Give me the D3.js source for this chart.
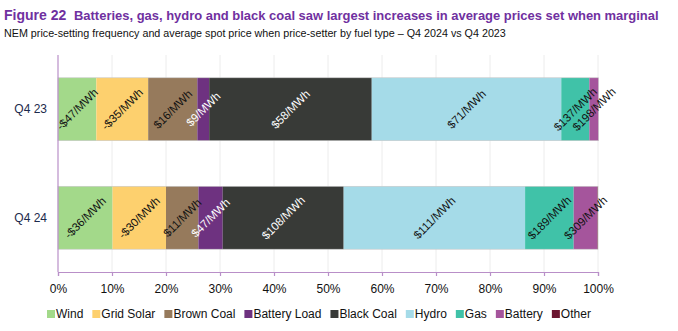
<!DOCTYPE html>
<html>
<head>
<meta charset="utf-8">
<script src="https://cdn.jsdelivr.net/npm/d3@7"></script>
<style>
  body { margin: 0; background: #fff; }
  svg { font-family: "Liberation Sans", Arial, sans-serif; }
</style>
</head>
<body>
<div id="chart"></div>
<script>
// quarters and fuel types
var quarters = ["Q4 23", "Q4 24"];
var fuels = ["Wind", "Grid Solar", "Brown Coal", "Battery Load", "Black Coal", "Hydro", "Gas", "Battery", "Other"];
var fuelColors = ["#a3d98a", "#fdd06e", "#967a5c", "#6e3280", "#383a37", "#a5dbe8", "#40c2a8", "#a5559c", "#6b1530"];

// price-setting share (%) per fuel, same order as fuels
var share23 = [7.1, 9.6, 9.1, 2.2, 30.1, 35.1, 5.2, 1.7, 0];
var share24 = [10.1, 9.9, 6.0, 4.5, 22.4, 33.6, 9.0, 4.4, 0.1];

// average price when price-setter
var price23 = ["-$47/MWh", "-$35/MWh", "$16/MWh", "$9/MWh", "$58/MWh", "$71/MWh", "$137/MWh", "$198/MWh", ""];
var price24 = ["-$36/MWh", "-$30/MWh", "$11/MWh", "$47/MWh", "$108/MWh", "$111/MWh", "$189/MWh", "$309/MWh", ""];

var xTicks = [0, 10, 20, 30, 40, 50, 60, 70, 80, 90, 100];

var width = 678, height = 331;
var margin = {top: 55, left: 58, right: 80, bottom: 59};

var svg = d3.select("#chart").append("svg")
    .attr("width", width)
    .attr("height", height);

// scale a text's font size so its natural width matches the target
function fitText(sel, target) {
  var fs = +sel.attr("font-size");
  var w = sel.node().getComputedTextLength();
  if (w > 0) sel.attr("font-size", (fs * target / w).toFixed(2));
}

// title + subtitle
svg.append("text")
    .attr("x", 4).attr("y", 20)
    .attr("fill", "#7030a0")
    .attr("font-size", 14)
    .attr("font-weight", "bold")
    .text("Figure 22");

var title = svg.append("text")
    .attr("x", 74).attr("y", 20)
    .attr("fill", "#7030a0")
    .attr("font-family", "'Liberation Sans Narrow', 'Liberation Sans', Arial, sans-serif")
    .attr("font-size", 14)
    .attr("font-weight", "bold")
    .text("Batteries, gas, hydro and black coal saw largest increases in average prices set when marginal");
fitText(title, 585);

var subtitle = svg.append("text")
    .attr("x", 4).attr("y", 37)
    .attr("fill", "#111")
    .attr("font-size", 11)
    .text("NEM price-setting frequency and average spot price when price-setter by fuel type \u2013 Q4 2024 vs Q4 2023");
fitText(subtitle, 502);

var x = d3.scaleLinear().domain([0, 100]).range([margin.left, 598]);
var y = d3.scaleBand().domain(quarters).range([margin.top, 272]).paddingInner(0.42).paddingOuter(0.21);

// gridlines
svg.append("g").selectAll("line")
    .data(xTicks.slice(1))
    .enter().append("line")
    .attr("x1", d => x(d)).attr("x2", d => x(d))
    .attr("y1", margin.top).attr("y2", 272)
    .attr("stroke", "#ececec")
    .attr("stroke-width", 1);

// stack the data
var rows = [
  {q: "Q4 23", shares: share23, prices: price23},
  {q: "Q4 24", shares: share24, prices: price24}
];

rows.forEach(function(row) {
  var acc = 0;
  var segs = row.shares.map(function(s, i) {
    var seg = {fuel: fuels[i], x0: acc, x1: acc + s, color: fuelColors[i], label: row.prices[i]};
    acc += s;
    return seg;
  });

  var g = svg.append("g");
  g.selectAll("rect")
      .data(segs.filter(d => d.x1 > d.x0))
    .enter().append("rect")
      .attr("x", d => x(d.x0))
      .attr("y", y(row.q))
      .attr("width", d => x(d.x1) - x(d.x0))
      .attr("height", y.bandwidth())
      .attr("fill", d => d.color);

  // outline of the whole bar
  g.append("rect")
      .attr("x", x(0)).attr("y", y(row.q))
      .attr("width", x(acc) - x(0)).attr("height", y.bandwidth())
      .attr("fill", "none")
      .attr("stroke", "#c8c8c8")
      .attr("stroke-width", 0.6);

  var cy = y(row.q) + y.bandwidth() / 2;
  g.selectAll("text")
      .data(segs.filter(d => d.label !== ""))
    .enter().append("text")
      .attr("transform", d => "translate(" + x((d.x0 + d.x1) / 2) + "," + cy + ") rotate(-45)")
      .attr("text-anchor", "middle")
      .attr("dy", "0.35em")
      .attr("font-size", 11.5)
      .attr("fill", d => (d.fuel == "Battery Load" || d.fuel == "Black Coal") ? "#fff" : "#111")
      .text(d => d.label);
});

// y labels
svg.append("g").selectAll("text")
    .data(quarters)
    .enter().append("text")
    .attr("x", 47)
    .attr("y", d => y(d) + y.bandwidth() / 2)
    .attr("dy", "0.35em")
    .attr("text-anchor", "end")
    .attr("font-size", 12)
    .attr("fill", "#1c2a4c")
    .text(d => d);

// y axis line
svg.append("line")
    .attr("x1", x(0)).attr("x2", x(0))
    .attr("y1", margin.top).attr("y2", 272)
    .attr("stroke", "#b98fc8")
    .attr("stroke-width", 1.2);

// x axis
var xAxis = svg.append("g")
    .attr("transform", "translate(0,272)")
    .call(d3.axisBottom(x).tickValues(xTicks).tickFormat(d => d + "%").tickSizeOuter(0).tickSize(4).tickPadding(8));
xAxis.select(".domain").attr("stroke", "#b98fc8").attr("stroke-width", 1.2);
xAxis.selectAll(".tick line").attr("stroke", "#b98fc8").attr("stroke-width", 1.2);
xAxis.selectAll("text").attr("font-size", 12).attr("fill", "#111")
    .attr("font-family", "'Liberation Sans', Arial, sans-serif");

// legend
var legend = svg.append("g").attr("transform", "translate(47,314)");
var lx = 0;
fuels.forEach(function(f, i) {
  var item = legend.append("g").attr("transform", "translate(" + lx + ",0)");
  item.append("rect")
      .attr("x", 0).attr("y", -4)
      .attr("width", 8).attr("height", 8)
      .attr("fill", fuelColors[i]);
  var t = item.append("text")
      .attr("x", 9).attr("dy", "0.35em")
      .attr("font-size", 12)
      .attr("fill", "#111")
      .text(f);
  lx += 9 + t.node().getComputedTextLength() + 9;
});
</script>
</body>
</html>
